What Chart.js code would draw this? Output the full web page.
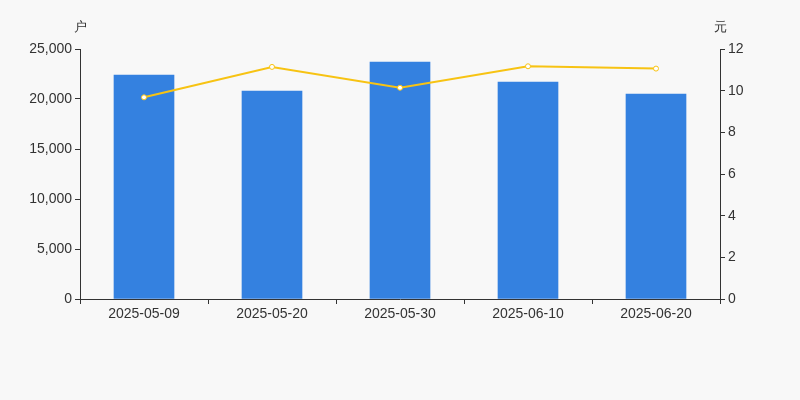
<!DOCTYPE html>
<html>
<head>
<meta charset="utf-8">
<script src="https://cdn.jsdelivr.net/npm/chart.js@4/dist/chart.umd.min.js"></script>
<style>
  html, body { margin: 0; padding: 0; background: #f8f8f8; }
  #wrap { width: 800px; height: 400px; }
</style>
</head>
<body>
<div id="wrap"><canvas id="c"></canvas></div>
<script>
// 股东户数 vs 股价
const dates = ["2025-05-09", "2025-05-20", "2025-05-30", "2025-06-10", "2025-06-20"];
const hushu = [22400, 20800, 23700, 21700, 20500];
const gujia = [9.68, 11.14, 10.14, 11.17, 11.06];

const axisColor = "#333";
const txt = "#333";
const ziti = "'Liberation Sans', Arial, sans-serif";

// 轴上方的单位
const danwei = {
  id: "danwei",
  afterDraw(chart) {
    const ctx = chart.ctx;
    const a = chart.chartArea;
    ctx.save();
    ctx.fillStyle = txt;
    ctx.font = "13px " + ziti;
    ctx.textAlign = "center";
    ctx.textBaseline = "middle";
    ctx.fillText("户", a.left, 27);
    ctx.fillText("元", a.right, 27);
    ctx.restore();
  }
};

new Chart(document.getElementById("c"), {
  data: {
    labels: dates,
    datasets: [
      {
        type: "line",
        label: "股价",
        data: gujia,
        yAxisID: "y1",
        borderColor: "#f7c313",
        borderWidth: 2,
        pointRadius: 2.5,
        pointBackgroundColor: "#fff",
        pointBorderColor: "#f7c313",
        pointBorderWidth: 1,
        tension: 0,
        order: 0
      },
      {
        type: "bar",
        label: "户数",
        data: hushu,
        yAxisID: "y",
        backgroundColor: "#3481e0",
        barThickness: 60,
        order: 1
      }
    ]
  },
  options: {
    responsive: true,
    maintainAspectRatio: false,
    animation: false,
    layout: { padding: { top: 49 } },
    plugins: { legend: { display: false }, tooltip: { enabled: false } },
    scales: {
      x: {
        offset: true,
        afterFit(s) { s.height = 101; },
        grid: { display: true, offset: true, drawOnChartArea: false, drawTicks: true, tickLength: 5, color: axisColor },
        border: { display: true, color: axisColor },
        ticks: { color: txt, font: { size: 14, family: ziti }, padding: 2, maxRotation: 0 }
      },
      y: {
        position: "left",
        min: 0,
        max: 25000,
        afterFit(s) { s.width = 80; },
        grid: { display: true, drawOnChartArea: false, drawTicks: true, tickLength: 5, color: axisColor },
        border: { display: true, color: axisColor },
        ticks: {
          stepSize: 5000,
          color: txt,
          padding: 3,
          font: { size: 14, family: ziti },
          callback: v => v.toLocaleString("en-US")
        }
      },
      y1: {
        position: "right",
        min: 0,
        max: 12,
        afterFit(s) { s.width = 80; },
        grid: { display: true, drawOnChartArea: false, drawTicks: true, tickLength: 5, color: axisColor },
        border: { display: true, color: axisColor },
        ticks: { stepSize: 2, color: txt, padding: 3, font: { size: 14, family: ziti } }
      }
    }
  },
  plugins: [danwei]
});
</script>
</body>
</html>
